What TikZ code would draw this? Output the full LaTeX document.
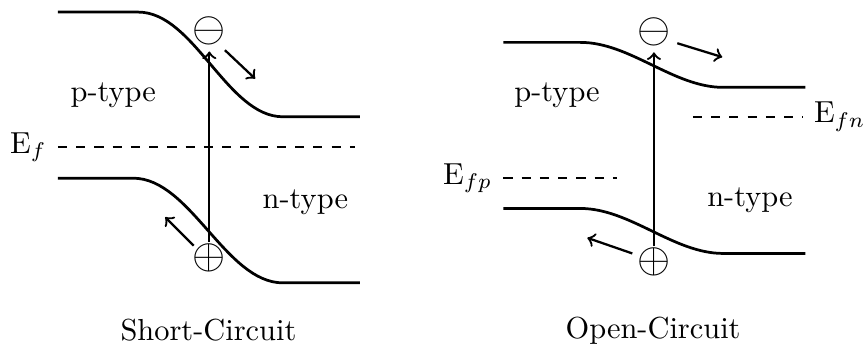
\documentclass[tikz,border=0pt]{standalone}
\usetikzlibrary{positioning}

\begin{document}
\begin{tikzpicture}[line width=0.75pt, >=to,
    band/.style={line width=0.9pt},
    level/.style={dashed, line width=0.75pt},
    carrier/.style={inner sep=0pt, scale=1.4}]
  \useasboundingbox (0,0) rectangle (10,4.07);
  % short-circuit
  \draw[band] (0.67,3.93) -- (1.60,3.93) to[out=0, in=180, looseness=0.8] (3.27,2.72) -- (4.16,2.72);
  \draw[band] (0.67,2.01) -- (1.54,2.01) to[out=0, in=180, looseness=0.8] (3.27,0.80) -- (4.16,0.80);
  \coordinate (EfL) at (0.67,2.37);
  \coordinate (EfR) at (4.10,2.37);
  \draw[level] (EfL) -- (EfR);
  \node[left] (Ef) at (EfL) {E$_f$};
  \node[carrier] (scm) at (2.42,3.71) {$\ominus$};
  \node[carrier] (scp) at (2.42,1.09) {$\oplus$};
  \draw[->] (scp) -- ([yshift=-1.5pt]scm.south);
  \coordinate (sce1) at (2.60,3.49);
  \coordinate (sce2) at (2.95,3.16);
  \draw[->] (sce1) -- (sce2);
  \coordinate (sch1) at (2.24,1.23);
  \coordinate (sch2) at (1.91,1.56);
  \draw[->] (sch1) -- (sch2);
  \node (scpt) at (1.31,2.97) {p-type};
  \node (scnt) at (3.53,1.73) {n-type};
  \node (sclab) at (2.41,0.25) {Short-Circuit};
  % open-circuit
  \draw[band] (5.82,3.58) -- (6.71,3.58) to[out=0, in=180, looseness=0.85] (8.36,3.06) -- (9.31,3.06);
  \draw[band] (5.82,1.66) -- (6.71,1.66) to[out=0, in=180, looseness=0.85] (8.36,1.14) -- (9.31,1.14);
  \coordinate (EfnL) at (8.01,2.72);
  \coordinate (EfnR) at (9.28,2.72);
  \draw[level] (EfnL) -- (EfnR);
  \node[right] (Efn) at (EfnR) {E$_{fn}$};
  \coordinate (EfpL) at (5.82,2.01);
  \coordinate (EfpR) at (7.13,2.01);
  \draw[level] (EfpL) -- (EfpR);
  \node[left] (Efp) at (EfpL) {E$_{fp}$};
  \node[carrier] (ocm) at (7.56,3.70) {$\ominus$};
  \node[carrier] (ocp) at (7.56,1.04) {$\oplus$};
  \draw[->] (ocp) -- ([yshift=-1.5pt]ocm.south);
  \coordinate (oce1) at (7.83,3.57);
  \coordinate (oce2) at (8.35,3.41);
  \draw[->] (oce1) -- (oce2);
  \coordinate (och1) at (7.31,1.14);
  \coordinate (och2) at (6.79,1.32);
  \draw[->] (och1) -- (och2);
  \node (ocpt) at (6.44,2.97) {p-type};
  \node (ocnt) at (8.67,1.76) {n-type};
  \node (oclab) at (7.55,0.25) {Open-Circuit};
\end{tikzpicture}
\end{document}
